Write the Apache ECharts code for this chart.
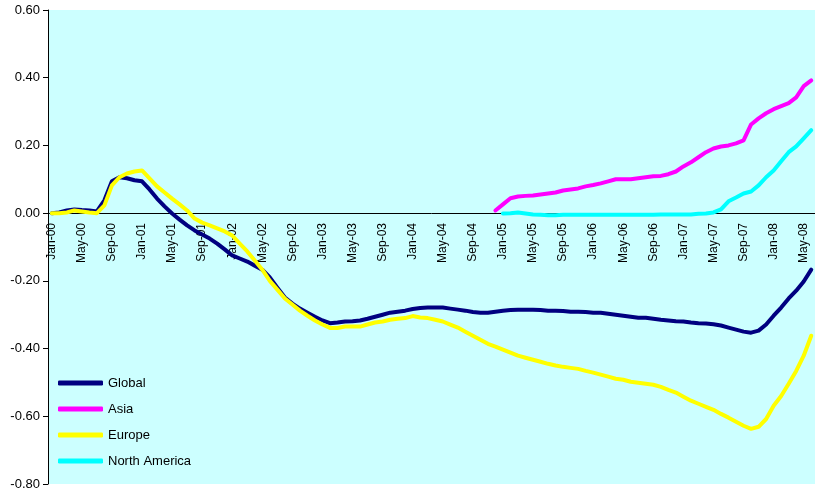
<!DOCTYPE html>
<html>
<head>
<meta charset="utf-8">
<script src="https://cdn.jsdelivr.net/npm/echarts@6/dist/echarts.min.js"></script>
<style>
  html, body { margin: 0; padding: 0; background: #fff; }
  #chart { width: 815px; height: 492px; }
</style>
</head>
<body>
<div id="chart"></div>
<script>
// months Jan-00 .. Jun-08
var monthNames = ['Jan', 'Feb', 'Mar', 'Apr', 'May', 'Jun', 'Jul', 'Aug', 'Sep', 'Oct', 'Nov', 'Dec'];
var years = ['00', '01', '02', '03', '04', '05', '06', '07', '08'];
var categories = [];
years.forEach(function (y) {
    monthNames.forEach(function (m) {
        if (categories.length < 102) categories.push(m + '-' + y);
    });
});

var globalData = [
    0.000, 0.002, 0.008, 0.011, 0.009, 0.008, 0.005, 0.038, 0.094, 0.106, 0.103, 0.097,
    0.094, 0.070, 0.043, 0.020, -0.001, -0.019, -0.036, -0.051, -0.063, -0.075, -0.090, -0.107,
    -0.125, -0.134, -0.143, -0.155, -0.167, -0.190, -0.220, -0.249, -0.267, -0.282, -0.294, -0.306,
    -0.317, -0.325, -0.323, -0.320, -0.319, -0.317, -0.312, -0.306, -0.300, -0.294, -0.291, -0.288,
    -0.283, -0.280, -0.279, -0.279, -0.279, -0.282, -0.285, -0.288, -0.292, -0.294, -0.294, -0.291,
    -0.288, -0.286, -0.285, -0.285, -0.285, -0.286, -0.288, -0.288, -0.289, -0.291, -0.291, -0.292,
    -0.294, -0.294, -0.297, -0.300, -0.303, -0.306, -0.309, -0.309, -0.312, -0.315, -0.317, -0.319,
    -0.320, -0.323, -0.325, -0.326, -0.328, -0.332, -0.338, -0.344, -0.350, -0.353, -0.347, -0.329,
    -0.303, -0.279, -0.252, -0.229, -0.202, -0.167
];

var asiaData = [
    null, null, null, null, null, null, null, null, null, null, null, null,
    null, null, null, null, null, null, null, null, null, null, null, null,
    null, null, null, null, null, null, null, null, null, null, null, null,
    null, null, null, null, null, null, null, null, null, null, null, null,
    null, null, null, null, null, null, null, null, null, null, null, 0.008,
    0.026, 0.044, 0.049, 0.051, 0.052, 0.055, 0.058, 0.061, 0.067, 0.070, 0.073, 0.079,
    0.083, 0.088, 0.094, 0.100, 0.100, 0.100, 0.103, 0.106, 0.109, 0.110, 0.115, 0.123,
    0.138, 0.150, 0.165, 0.180, 0.191, 0.197, 0.200, 0.206, 0.215, 0.262, 0.280, 0.295,
    0.307, 0.316, 0.325, 0.342, 0.375, 0.392
];

var europeData = [
    0.000, 0.000, 0.002, 0.008, 0.005, 0.002, 0.000, 0.023, 0.082, 0.106, 0.117, 0.123,
    0.126, 0.103, 0.079, 0.061, 0.043, 0.026, 0.008, -0.016, -0.028, -0.036, -0.045, -0.054,
    -0.066, -0.090, -0.113, -0.140, -0.167, -0.200, -0.226, -0.252, -0.270, -0.288, -0.303, -0.317,
    -0.329, -0.339, -0.339, -0.335, -0.335, -0.335, -0.329, -0.323, -0.320, -0.315, -0.312, -0.310,
    -0.304, -0.308, -0.310, -0.315, -0.320, -0.329, -0.338, -0.350, -0.362, -0.374, -0.386, -0.394,
    -0.403, -0.412, -0.421, -0.427, -0.433, -0.439, -0.445, -0.450, -0.454, -0.457, -0.460, -0.466,
    -0.471, -0.477, -0.483, -0.489, -0.492, -0.498, -0.501, -0.504, -0.507, -0.513, -0.522, -0.530,
    -0.542, -0.554, -0.563, -0.572, -0.581, -0.593, -0.604, -0.616, -0.628, -0.637, -0.631, -0.608,
    -0.569, -0.540, -0.504, -0.466, -0.421, -0.362
];

var northAmericaData = [
    null, null, null, null, null, null, null, null, null, null, null, null,
    null, null, null, null, null, null, null, null, null, null, null, null,
    null, null, null, null, null, null, null, null, null, null, null, null,
    null, null, null, null, null, null, null, null, null, null, null, null,
    null, null, null, null, null, null, null, null, null, null, null, null,
    -0.001, 0.000, 0.002, -0.001, -0.004, -0.005, -0.006, -0.006, -0.005, -0.005, -0.005, -0.005,
    -0.005, -0.005, -0.005, -0.005, -0.005, -0.005, -0.005, -0.005, -0.005, -0.004, -0.004, -0.004,
    -0.004, -0.004, -0.002, -0.001, 0.002, 0.011, 0.035, 0.046, 0.058, 0.064, 0.082, 0.106,
    0.126, 0.153, 0.180, 0.197, 0.221, 0.245
];

var seriesNames = ['Global', 'Asia', 'Europe', 'North America'];
var seriesColors = ['#000080', '#FF00FF', '#FFFF00', '#00FFFF'];
var seriesData = [globalData, asiaData, europeData, northAmericaData];

var chart = echarts.init(document.getElementById('chart'));
var font = 'Liberation Sans, Arial, sans-serif';

// grid from y=10 to y=484, zero line sits 0.6/1.4 of the way down
var gridTop = 10, gridBottom = 8;
var plotH = 492 - gridTop - gridBottom;
var zeroShift = Math.round(plotH * 0.8 / 1.4);

var option = {
    animation: false,
    backgroundColor: '#ffffff',
    textStyle: { fontFamily: font },
    grid: {
        left: 48, right: 0, top: gridTop, bottom: gridBottom,
        show: true, backgroundColor: '#CCFFFF', borderWidth: 0,
        containLabel: false,
        outerBoundsMode: 'none'
    },
    legend: {
        orient: 'vertical',
        left: 58,
        top: 375,
        padding: 0,
        itemWidth: 45,
        itemHeight: 5,
        itemGap: 10,
        icon: 'roundRect',
        textStyle: { fontFamily: font, fontSize: 13, color: '#000', lineHeight: 16 },
        data: seriesNames
    },
    xAxis: {
        type: 'category',
        data: categories,
        boundaryGap: true,
        position: 'bottom',
        offset: -zeroShift,
        axisLine: { onZero: false, lineStyle: { color: '#000', width: 1 } },
        axisTick: { show: false },
        axisLabel: {
            interval: 3,
            rotate: 90,
            margin: 10,
            fontFamily: font,
            fontSize: 12,
            color: '#000'
        },
        splitLine: { show: false }
    },
    yAxis: {
        type: 'value',
        min: -0.8,
        max: 0.6,
        interval: 0.2,
        axisLine: { show: true, lineStyle: { color: '#000', width: 1 } },
        axisTick: { show: true, length: 5, lineStyle: { color: '#000' } },
        axisLabel: {
            margin: 8,
            fontFamily: font,
            fontSize: 13,
            color: '#000',
            formatter: function (v) { return v.toFixed(2); }
        },
        splitLine: { show: false }
    },
    series: seriesNames.map(function (name, i) {
        return {
            name: name,
            type: 'line',
            data: seriesData[i],
            symbol: 'none',
            smooth: false,
            connectNulls: false,
            color: seriesColors[i],
            lineStyle: { color: seriesColors[i], width: 4, cap: 'round', join: 'round' }
        };
    })
};

chart.setOption(option);
</script>
</body>
</html>
